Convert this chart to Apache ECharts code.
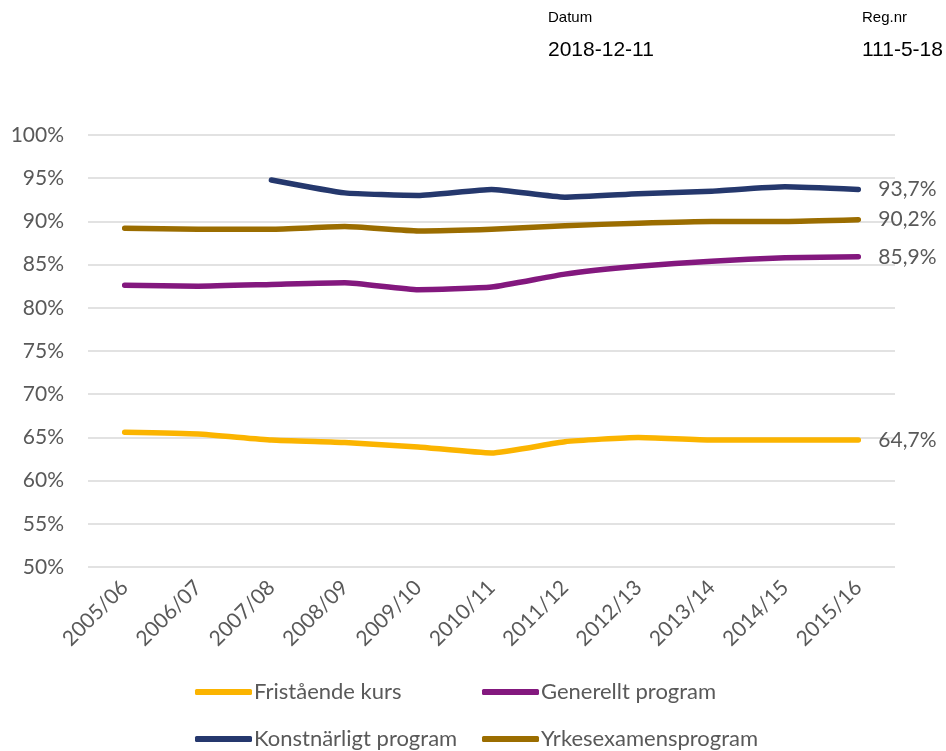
<!DOCTYPE html>
<html>
<head>
<meta charset="utf-8">
<script src="https://cdn.jsdelivr.net/npm/echarts@6/dist/echarts.min.js"></script>
<style>
  html, body { margin: 0; padding: 0; background: #fff; }
  #chart { width: 946px; height: 751px; }
</style>
</head>
<body>
<div id="chart"></div>
<script>
const years = ['2005/06', '2006/07', '2007/08', '2008/09', '2009/10', '2010/11',
  '2011/12', '2012/13', '2013/14', '2014/15', '2015/16']

const fristaende = [65.6, 65.4, 64.7, 64.4, 63.9, 63.2, 64.5, 65.0, 64.7, 64.7, 64.7]
const generellt = [82.6, 82.5, 82.7, 82.9, 82.1, 82.4, 83.9, 84.8, 85.4, 85.8, 85.9]
const konstnarligt = [null, null, 94.8, 93.3, 93.0, 93.7, 92.8, 93.2, 93.5, 94.0, 93.7]
const yrkes = [89.2, 89.1, 89.1, 89.4, 88.9, 89.1, 89.5, 89.8, 90.0, 90.0, 90.2]

const yTicks = { min: 50, max: 100, step: 5 }

const names = ['Fristående kurs', 'Generellt program', 'Konstnärligt program', 'Yrkesexamensprogram']
const colors = ['#FBB400', '#83187E', '#25386D', '#9B6D00']
const values = [fristaende, generellt, konstnarligt, yrkes]

const font = 'Lato, "Noto Sans", sans-serif'
const grey = '#595959'

const chart = echarts.init(document.getElementById('chart'))

const series = names.map((name, i) => ({
  name,
  type: 'line',
  data: values[i],
  smooth: 0.15,
  showSymbol: false,
  symbol: 'none',
  connectNulls: false,
  lineStyle: { width: 5.5, color: colors[i], cap: 'round', join: 'round' },
  itemStyle: { color: colors[i] },
  endLabel: {
    show: true,
    distance: 20,
    color: grey,
    fontFamily: font,
    fontSize: 21,
    formatter: p => p.value.toFixed(1).replace('.', ',') + '%'
  },
  emphasis: { disabled: true }
}))

// one legend per item so the columns line up like the original
const legendPos = [[195, 681], [482, 681], [195, 728], [482, 728]]
const legends = names.map((name, i) => ({
  data: [name],
  left: legendPos[i][0],
  top: legendPos[i][1],
  padding: 0,
  itemWidth: 57,
  itemHeight: 6,
  itemGap: 0,
  icon: 'roundRect',
  textStyle: { color: grey, fontFamily: font, fontSize: 22, padding: [0, 0, 0, -3] },
  selectedMode: false
}))

chart.setOption({
  backgroundColor: '#fff',
  animation: false,
  grid: { left: 88, right: 51, top: 135, bottom: 184, containLabel: false },
  legend: legends,
  graphic: [
    { type: 'text', left: 548, top: 10, style: { text: 'Datum', font: '15px "Liberation Sans", Arial', fill: '#000' } },
    { type: 'text', left: 548, top: 40, style: { text: '2018-12-11', font: '21px "Liberation Sans", Arial', fill: '#000' } },
    { type: 'text', left: 862, top: 10, style: { text: 'Reg.nr', font: '15px "Liberation Sans", Arial', fill: '#000' } },
    { type: 'text', left: 862, top: 40, style: { text: '111-5-18', font: '21px "Liberation Sans", Arial', fill: '#000' } }
  ],
  xAxis: {
    type: 'category',
    data: years,
    boundaryGap: true,
    axisLine: { show: false },
    axisTick: { show: false },
    axisLabel: {
      rotate: 45,
      margin: 17,
      color: grey,
      fontFamily: font,
      fontSize: 21
    }
  },
  yAxis: {
    type: 'value',
    min: yTicks.min,
    max: yTicks.max,
    interval: yTicks.step,
    axisLine: { show: false },
    axisTick: { show: false },
    splitLine: { lineStyle: { color: '#D9D9D9', width: 1.5 } },
    axisLabel: {
      margin: 24,
      color: grey,
      fontFamily: font,
      fontSize: 21,
      formatter: v => v + '%'
    }
  },
  series
})
</script>
</body>
</html>
